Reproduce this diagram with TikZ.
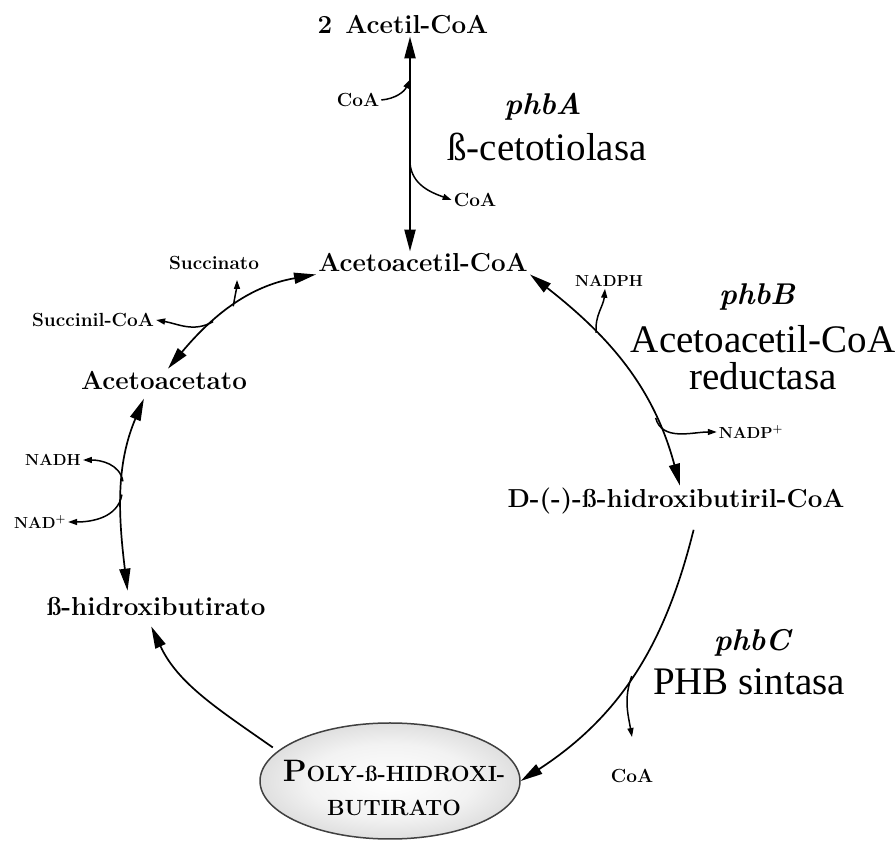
\documentclass[tikz,border=0pt]{standalone}
\usepackage{fontspec}
\newfontfamily\enzfont{Liberation Serif}
\usetikzlibrary{shapes.geometric, arrows.meta}
\pgfdeclareradialshading{phbshade}{\pgfpoint{0bp}{0bp}}{color(0bp)=(white); color(16bp)=(gray!10); color(34bp)=(gray!40); color(46bp)=(gray!70); color(50bp)=(gray!85)}

\begin{document}
\begin{tikzpicture}[
    x=1pt, y=1pt,
    >={Triangle[length=22pt, width=11pt]},
    % Styles
    metab/.style={ % Metabolites of the cycle
        font=\bfseries\fontsize{26}{30}\selectfont,
        inner sep=2pt
    },
    cofactor/.style={
        font=\bfseries\fontsize{19}{22}\selectfont,
        inner sep=2pt
    },
    nadlabel/.style={
        font=\bfseries\fontsize{16}{19}\selectfont,
        inner sep=2pt
    },
    gene/.style={
        font=\bfseries\itshape\fontsize{30}{34}\selectfont,
        inner sep=2pt
    },
    enzyme/.style={
        font=\enzfont\fontsize{39}{37}\selectfont,
        align=center,
        inner sep=2pt
    },
    polymer/.style={ % PHB granule
        ellipse,
        minimum width=260pt,
        minimum height=116pt,
        inner sep=0pt,
        draw=black!75,
        line width=1.5pt,
        shade, shading=phbshade
    },
    polytext/.style={
        font=\fontseries{bx}\fontsize{22}{34}\selectfont,
        align=center,
        inner sep=0pt
    },
    arrow/.style={
        <->,
        line width=1.7pt
    },
    single/.style={
        ->,
        line width=1.7pt
    },
    side/.style={ % Cofactor arrows
        -{Triangle[length=9pt, width=6pt]},
        line width=1.5pt
    }
]
    \useasboundingbox (0,0) rectangle (896,842);

    % Metabolites
    \node[metab] (acetil) at (403,817) {2\hspace{0.5em}Acetil-CoA};
    \node[metab] (acac) at (423,579) {Acetoacetil-CoA};
    \node[metab] (hbcoa) at (676,341) {D-(-)-ß-hidroxibutiril-CoA};
    \node[metab] (aca) at (164,462) {Acetoacetato};
    \node[metab] (hb) at (156,236) {ß-hidroxibutirato};
    \node[polymer] (phb) at (390,61) {};
    \node[polytext] (phbText) at (394,54) {{\fontsize{31}{34}\selectfont P}OLY-ß-HIDROXI-\\BUTIRATO};

    % Genes and enzymes
    \node[gene] (phbA) at (543,735) {phbA};
    \node[enzyme] (thiolasa) at (547,695) {ß-cetotiolasa};
    \node[gene] (phbB) at (757,545) {phbB};
    \node[enzyme] (reductasa) at (763,484) {Acetoacetil-CoA\\reductasa};
    \node[gene] (phbC) at (752,199) {phbC};
    \node[enzyme] (sintasa) at (749,160) {PHB sintasa};

    % Cofactors
    \node[cofactor] (coaL) at (358,742) {CoA};
    \node[cofactor] (coaR) at (475,642) {CoA};
    \node[nadlabel] (nadph) at (609,561) {NADPH};
    \node[nadlabel] (nadp) at (751,410) {NADP\textsuperscript{+}};
    \node[cofactor] (coaB) at (632,66) {CoA};
    \node[nadlabel] (nadh) at (53,382) {NADH};
    \node[nadlabel] (nad) at (40,320) {NAD\textsuperscript{+}};
    \node[cofactor] (succil) at (93,522) {Succinil-CoA};
    \node[cofactor] (succ) at (214,579) {Succinato};

    % Thiolase step
    \draw[arrow, line width=2.2pt] ([xshift=7pt]acetil.south) -- ([xshift=-13pt]acac.north)
        coordinate[pos=0.2] (thioIn) coordinate[pos=0.59] (thioOut);
    \draw[side] (coaL.east) to[out=5, in=-115] (thioIn);
    \draw[side] (thioOut) to[out=-85, in=160] (coaR.west);

    % Reductase step
    \draw[arrow] (acac.south east) to[out=-38, in=105]
        coordinate[pos=0.32] (redIn) coordinate[pos=0.74] (redOut) ([xshift=4pt]hbcoa.north);
    \draw[side] (redIn) to[out=95, in=-95] ([xshift=-4pt]nadph.south);
    \draw[side] (redOut) to[out=-75, in=180] (nadp.west);

    % Synthase step
    \draw[single, shorten <=14pt] ([xshift=21pt]hbcoa.south) to[out=-104, in=33]
        coordinate[pos=0.53] (synOut) (phb.east);
    \draw[side] (synOut) to[out=-110, in=100] ([yshift=30pt]coaB.north);

    % Degradation
    \draw[single, shorten <=6pt, shorten >=10pt] (phb.165) to[out=145, in=-65] ([xshift=-9pt]hb.south);
    \draw[arrow, shorten <=8pt, shorten >=4pt] ([xshift=-17pt]aca.south) to[out=-113, in=97]
        coordinate[pos=0.45] (nadhPt) coordinate[pos=0.52] (nadPt) ([xshift=-28pt]hb.north);
    \draw[side] (nadhPt) to[out=100, in=0] (nadh.east);
    \draw[side] (nadPt) to[out=-100, in=0] (nad.east);
    \draw[arrow] ([xshift=4pt]aca.north) to[out=50, in=-170]
        coordinate[pos=0.35] (succOut) coordinate[pos=0.5] (succIn) (acac.south west);
    \draw[side] (succOut) to[out=-150, in=-10] (succil.east);
    \draw[side, shorten >=8pt] (succIn) to[out=80, in=-90] ([xshift=23pt]succ.south);
\end{tikzpicture}
\end{document}
